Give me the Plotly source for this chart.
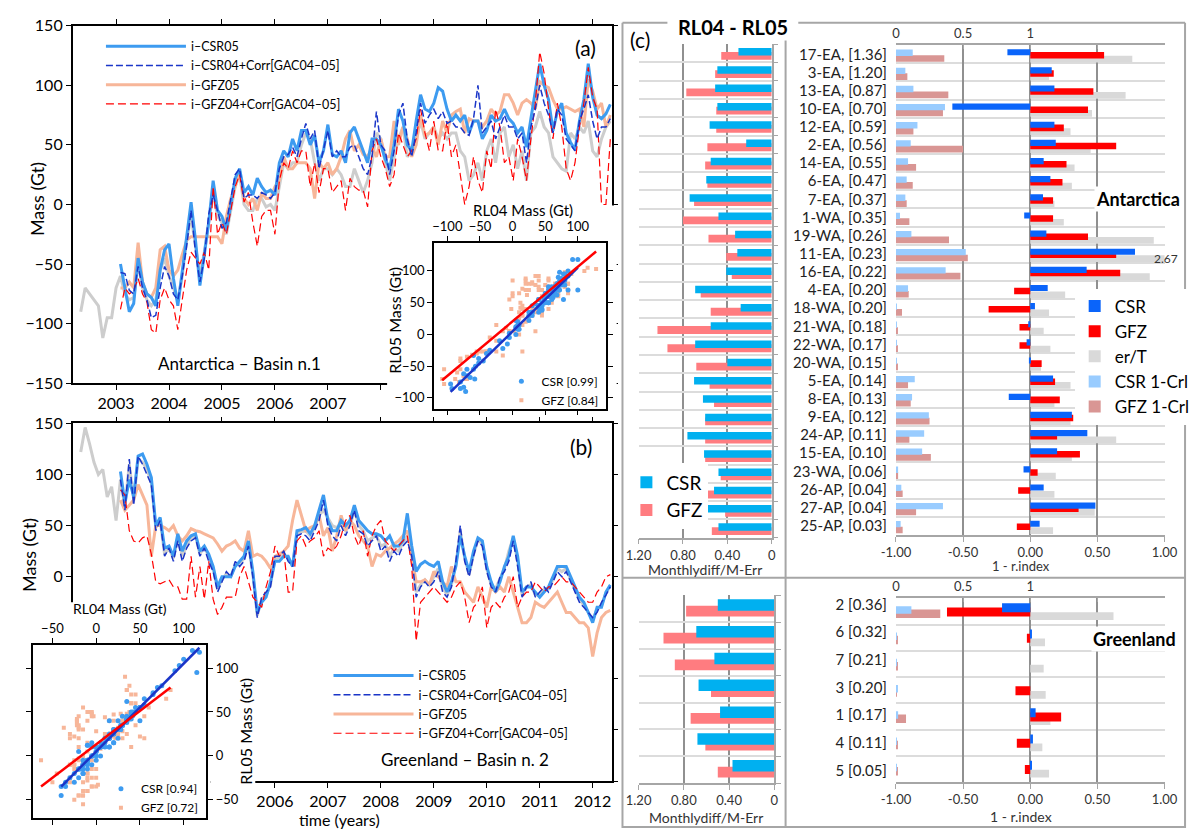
import numpy as np
import plotly.graph_objects as go

W, H = 1200, 837
def px_x(v): return v / W
def px_y(v): return 1 - v / H
def dom_x(a, b): return [a / W, b / W]
def dom_y(top, bottom): return [1 - bottom / H, 1 - top / H]

# ------------------------------------------------------------------ DATA
# monthly epochs (Feb 2003 ... Apr 2012); gray reference starts 9 months earlier
t_main = 2003 + (np.arange(0, 112) + 1) / 12.0
t_gray = 2003 + (np.arange(-9, 112) + 1) / 12.0
year_ticks = list(range(2003, 2013))

# Panel (a) Antarctica basin 1 (Gt)
ant_csr05 = [-50,-70,-90,-83,-45,-65,-75,-78,-85,-55,-38,-33,
             -62,-85,-55,-25,2,-30,-68,-42,-15,20,-5,-10,
             -22,0,22,30,10,15,8,22,15,10,12,8,
             35,45,40,55,45,62,62,50,58,35,45,67,
             42,40,45,35,60,65,55,45,35,55,55,50,
             38,30,50,80,70,50,45,70,92,80,78,85,
             98,95,80,70,75,70,75,60,70,70,55,62,
             75,70,72,80,72,68,60,65,48,72,95,118,
             100,88,62,78,85,60,52,46,70,88,118,90,
             75,72,76,84]
ant_csr04 = [-57,-58,-72,-75,-52,-70,-80,-95,-93,-70,-52,-60,
             -75,-80,-60,-35,-5,-40,-65,-45,-8,8,-5,-20,
             -15,5,25,30,5,8,8,5,10,8,5,10,
             30,40,42,48,40,55,68,55,62,30,45,62,
             40,45,40,40,48,50,40,30,25,40,78,50,
             45,25,45,75,85,55,40,60,85,68,75,80,
             72,78,68,70,65,65,60,58,72,100,60,65,
             70,55,65,75,65,65,55,60,35,65,80,100,
             85,75,60,80,75,55,50,45,70,80,92,70,
             55,65,65,72]
ant_gfz05 = [-70,-70,-65,-70,-32,-65,-75,-78,-70,-38,-35,-55,
             -60,-55,-42,-30,-27,-27,-27,-27,-27,-27,-27,-33,
             -10,5,15,28,5,0,5,-5,10,5,5,15,
             20,40,30,30,35,35,35,30,5,35,30,35,
             25,30,40,55,62,45,50,42,40,48,40,55,
             40,40,70,50,65,55,40,50,75,58,60,65,
             50,70,60,75,78,80,60,72,70,70,65,70,
             80,75,78,92,92,85,75,85,88,85,80,103,
             100,98,88,80,80,82,80,78,80,65,105,95,
             80,85,65,75]
ant_gfz04 = [-88,-70,-75,-72,-62,-75,-82,-105,-108,-80,-70,-80,
             -85,-105,-80,-55,-40,-45,-50,-40,-55,15,-25,-15,
             -25,-5,15,25,2,10,-15,-35,-10,-5,-5,-25,
             20,35,30,45,35,45,45,15,35,10,30,30,
             10,15,20,-5,22,15,12,12,-2,45,55,40,
             30,15,25,60,50,40,45,55,80,60,45,70,
             45,45,70,40,50,25,0,15,40,20,10,45,
             30,80,65,35,40,20,55,40,20,55,85,128,
             110,80,55,85,65,30,20,35,65,85,115,90,
             80,0,0,55]
ant_gray = [-90,-70,-75,-80,-85,-112,-95,-95,-70,
            -60,-75,-80,-78,-50,-70,-80,-85,-80,-55,-45,-60,
            -70,-80,-60,-30,-10,-35,-60,-40,-15,10,-10,-15,
            -25,-5,15,25,0,-5,-5,5,5,-2,0,-5,
            15,35,30,35,35,50,60,55,35,20,30,30,
            25,30,25,15,15,30,20,10,20,35,60,55,
            35,20,40,55,65,40,45,55,70,55,60,65,
            55,60,55,60,60,45,40,20,25,35,20,45,
            55,35,60,65,40,50,30,45,20,60,65,78,
            65,60,40,35,30,28,60,55,65,60,70,45,
            40,55,65,70]

# Panel (b) Greenland basin 2 (Gt)
gr_csr05 = [103,72,95,78,118,120,110,97,50,58,28,30,
            20,42,25,35,40,42,25,30,22,10,-10,0,
            0,0,10,15,20,35,5,-35,-25,-20,-5,15,
            15,20,20,10,45,46,48,42,50,65,80,55,
            45,45,55,50,55,70,55,50,45,42,42,40,
            35,40,30,30,35,62,30,5,12,15,12,10,
            15,-5,-15,-5,10,40,20,5,25,38,35,10,
            -5,-15,-5,10,20,40,20,-15,-10,-10,-15,-20,
            -15,-10,0,10,10,10,0,-10,-20,-25,-35,-45,
            -30,-30,-15,-8]
gr_csr04 = [95,65,115,70,118,110,100,90,45,55,20,28,
            15,35,15,28,35,38,20,28,15,5,-15,-5,
            5,0,15,10,15,30,0,-40,-20,-15,-10,20,
            20,25,15,10,40,42,40,35,45,55,75,50,
            40,35,50,40,50,65,45,42,30,35,40,25,
            30,15,25,20,30,35,20,-20,-10,-5,-10,-5,
            5,-15,-20,-10,15,50,15,0,20,35,30,5,
            -10,-15,0,5,15,35,10,-20,-10,-5,-20,-15,
            -10,-15,-5,5,0,5,-5,-15,-25,-30,-35,-40,
            -35,-25,-18,-10]
gr_gfz05 = [75,65,70,75,90,80,70,20,50,50,48,45,
            50,40,35,40,47,45,44,42,40,38,32,25,
            30,32,35,28,25,45,20,22,20,15,8,20,
            22,25,30,55,75,60,45,48,50,60,40,48,
            25,40,60,45,55,50,40,35,30,10,22,20,
            25,28,32,35,40,45,20,-5,-5,-3,-8,5,
            0,-5,-10,10,-5,-5,-15,-20,-25,-10,-20,-30,
            -10,-15,-10,-15,0,-15,-30,-45,-45,-40,-25,-28,
            -30,-25,-20,-15,-25,-35,-35,-40,-45,-45,-50,-78,
            -55,-40,-35,-33]
gr_gfz04 = [85,80,45,35,33,38,40,22,-5,-7,-5,-3,
            -10,-10,-22,-22,20,-20,10,-22,15,-22,-37,-30,
            -20,-20,-20,0,10,-5,-20,-25,-30,-10,5,30,
            20,25,-15,-15,35,40,30,35,38,45,20,28,
            25,30,40,55,60,40,30,45,20,40,50,55,
            35,30,25,30,35,40,10,-63,-25,-20,-15,-10,
            -15,-20,-25,-20,-10,-5,-20,-45,-30,-25,-10,-50,
            -30,-25,-30,-20,-15,0,-30,-20,-15,-15,-5,-10,
            -15,-10,-10,-5,0,-5,-5,-10,-15,-20,-25,-25,
            -15,-10,0,2]
gr_gray = [122,146,130,112,100,105,78,88,55,
           95,68,110,75,115,112,105,92,48,55,22,28,
           18,38,20,30,38,40,22,30,18,8,-12,-3,
           3,0,12,12,18,32,2,-38,-22,-18,-8,18,
           18,22,18,10,42,44,45,40,48,60,65,58,
           50,48,52,45,50,65,50,45,35,38,40,30,
           32,20,28,25,32,40,25,-15,-8,-3,-8,0,
           8,-10,-18,-8,12,45,18,2,22,36,32,8,
           -8,-12,-2,8,25,38,15,-18,-10,-8,-18,-18,
           -12,-12,-3,8,5,8,-3,-12,-22,-28,-35,-42,
           -32,-28,-16,-9]

ant_corr_csr, ant_corr_gfz = "0.99", "0.84"
gr_corr_csr, gr_corr_gfz = "0.94", "0.72"

# Panel (c) Antarctica
ant_basins = ["17-EA, [1.36]", "3-EA, [1.20]", "13-EA, [0.87]", "10-EA, [0.70]",
              "12-EA, [0.59]", "2-EA, [0.56]", "14-EA, [0.55]", "6-EA, [0.47]",
              "7-EA, [0.37]", "1-WA, [0.35]", "19-WA, [0.26]", "11-EA, [0.23]",
              "16-EA, [0.22]", "4-EA, [0.20]", "18-WA, [0.20]", "21-WA, [0.18]",
              "22-WA, [0.17]", "20-WA, [0.15]", "5-EA, [0.14]", "8-EA, [0.13]",
              "9-EA, [0.12]", "24-AP, [0.11]", "15-EA, [0.10]", "23-WA, [0.06]",
              "26-AP, [0.04]", "27-AP, [0.04]", "25-AP, [0.03]"]
ant_md_csr = [0.30,0.49,0.51,0.49,0.56,0.23,0.55,0.59,0.74,0.48,0.33,0.31,0.41,0.69,
              0.28,0.55,0.69,0.40,0.70,0.62,0.60,0.76,0.61,0.48,0.52,0.59,0.48]
ant_md_gfz = [0.455,0.51,0.77,0.50,0.50,0.58,0.60,0.58,0.70,0.80,0.57,0.41,0.36,0.64,
              0.55,1.03,0.94,0.68,0.56,0.52,0.60,0.60,0.60,0.46,0.60,0.42,0.54]
ant_r_csr = [-0.17,0.16,0.18,-0.58,0.18,0.19,0.10,0.15,0.095,-0.045,0.12,0.78,0.42,0.13,
             0.035,-0.015,-0.027,-0.01,0.17,-0.16,0.31,0.425,0.20,-0.05,0.10,0.485,0.07]
ant_r_gfz = [0.55,0.175,0.47,0.43,0.25,0.64,0.27,0.24,0.17,0.17,0.43,0.64,0.67,-0.12,
             -0.31,-0.08,-0.08,0.085,0.185,0.22,0.32,0.20,0.37,0.055,-0.09,0.36,-0.10]
ant_r_ert = [0.76,0.14,0.71,0.46,0.30,0.45,0.33,0.31,0.18,0.25,0.92,2.67,0.89,0.26,
             0.14,0.10,0.15,0.08,0.30,0.18,0.30,0.64,0.31,0.19,0.18,0.48,0.17]
ant_crl_csr = [0.125,0.07,0.13,0.365,0.16,0.11,0.09,0.08,0.07,0.03,0.115,0.52,0.37,0.09,
               0.005,0.004,0.005,0.005,0.14,0.12,0.245,0.21,0.195,0.016,0.04,0.35,0.035]
ant_crl_gfz = [0.36,0.085,0.39,0.35,0.13,0.50,0.15,0.125,0.08,0.10,0.395,0.535,0.48,0.095,
               0.045,0.015,0.015,0.015,0.09,0.11,0.25,0.10,0.26,0.016,0.05,0.15,0.05]

# Panel (c) Greenland
gr_basins = ["2 [0.36]", "6 [0.32]", "7 [0.21]", "3 [0.20]", "1 [0.17]", "4 [0.11]", "5 [0.05]"]
gr_md_csr = [0.50,0.69,0.53,0.67,0.48,0.68,0.37]
gr_md_gfz = [0.78,0.98,0.88,0.56,0.74,0.61,0.50]
gr_r_csr = [-0.21,0.01,0.0,0.0,0.04,0.02,0.013]
gr_r_gfz = [-0.62,-0.025,0.0,-0.11,0.23,-0.10,-0.04]
gr_r_ert = [0.62,0.11,0.10,0.115,0.15,0.09,0.14]
gr_crl_csr = [0.115,0.004,0.004,0.01,0.016,0.004,0.004]
gr_crl_gfz = [0.33,0.015,0.01,0.006,0.075,0.008,0.015]

# ------------------------------------------------------------------ STYLE
FONT = "Lato"
C_CSR05, C_CSR04 = "#3d9bf0", "#1a35c8"
C_GFZ05, C_GFZ04 = "#f7b699", "#ff0000"
C_GRAY = "#cdcdcd"
C_MD_CSR, C_MD_GFZ = "#00b0f0", "#ff7c80"
C_R_CSR, C_R_GFZ, C_R_ERT = "#0a64fa", "#ff0000", "#d9d9d9"
C_CRL_CSR, C_CRL_GFZ = "#99ccff", "#d99694"
GRID_DARK, GRID_LIGHT, FRAME = "#909090", "#dcdcdc", "#a6a6a6"

fig = go.Figure()

def ts(t, y, color, width, dash, name, xa, ya, legend, rank, show=True):
    fig.add_trace(go.Scatter(x=t, y=y, mode="lines", name=name,
                             line=dict(color=color, width=width, dash=dash),
                             xaxis=xa, yaxis=ya, legend=legend, legendrank=rank,
                             legendgroup=f"{legend}-{rank}",
                             showlegend=show, hoverinfo="skip"))

# (a) main
ts(t_gray, ant_gray, C_GRAY, 3, "solid", "gray", "x", "y", "legend", 9, False)
ts(t_main, ant_gfz05, C_GFZ05, 3, "solid", "i\u2013GFZ05", "x", "y", "legend", 3)
ts(t_main, ant_csr05, C_CSR05, 3, "solid", "i\u2013CSR05", "x", "y", "legend", 1)
ts(t_main, ant_gfz04, C_GFZ04, 1.2, "8px,4px", "i\u2013GFZ04+Corr[GAC04\u201305]", "x", "y", "legend", 4)
ts(t_main, ant_csr04, C_CSR04, 1.5, "7px,3px", "i\u2013CSR04+Corr[GAC04\u201305]", "x", "y", "legend", 2)
# (b) main
ts(t_gray, gr_gray, C_GRAY, 3, "solid", "gray", "x2", "y2", "legend2", 9, False)
ts(t_main, gr_gfz05, C_GFZ05, 3, "solid", "i\u2013GFZ05", "x2", "y2", "legend2", 3)
ts(t_main, gr_csr05, C_CSR05, 3, "solid", "i\u2013CSR05", "x2", "y2", "legend2", 1)
ts(t_main, gr_gfz04, C_GFZ04, 1.2, "8px,4px", "i\u2013GFZ04+Corr[GAC04\u201305]", "x2", "y2", "legend2", 4)
ts(t_main, gr_csr04, C_CSR04, 1.5, "7px,3px", "i\u2013CSR04+Corr[GAC04\u201305]", "x2", "y2", "legend2", 2)

# masks (white opaque subplots hiding the areas under the insets)
for xa, ya in [("x3", "y3"), ("x4", "y4"), ("x5", "y5")]:
    fig.add_trace(go.Scatter(x=[0.5], y=[0.5], mode="markers", marker=dict(opacity=0),
                             xaxis=xa, yaxis=ya, showlegend=False, hoverinfo="skip"))

def fit(x, y):
    x = np.asarray(x, float); y = np.asarray(y, float)
    m, c = np.polyfit(x, y, 1)
    xs = np.array([x.min(), x.max()])
    return xs, m * xs + c

def inset(xa, ya, legend, csr04, csr05, gfz04, gfz05, rc, rg):
    fig.add_trace(go.Scatter(x=gfz04, y=gfz05, mode="markers", name=f"GFZ [{rg}]",
                             marker=dict(symbol="square", size=4, color=C_GFZ05),
                             xaxis=xa, yaxis=ya, legend=legend, legendrank=2, hoverinfo="skip"))
    fig.add_trace(go.Scatter(x=csr04, y=csr05, mode="markers", name=f"CSR [{rc}]",
                             marker=dict(symbol="circle", size=5, color=C_CSR05),
                             xaxis=xa, yaxis=ya, legend=legend, legendrank=1, hoverinfo="skip"))
    fx, fy = fit(csr04, csr05)
    fig.add_trace(go.Scatter(x=fx, y=fy, mode="lines", line=dict(color=C_CSR04, width=2.5),
                             xaxis=xa, yaxis=ya, showlegend=False, hoverinfo="skip"))
    fx, fy = fit(gfz04, gfz05)
    fig.add_trace(go.Scatter(x=fx, y=fy, mode="lines", line=dict(color=C_GFZ04, width=2.5),
                             xaxis=xa, yaxis=ya, showlegend=False, hoverinfo="skip"))

inset("x6", "y6", "legend3", ant_csr04, ant_csr05, ant_gfz04, ant_gfz05, ant_corr_csr, ant_corr_gfz)
inset("x7", "y7", "legend4", gr_csr04, gr_csr05, gr_gfz04, gr_gfz05, gr_corr_csr, gr_corr_gfz)

# ---------------- bar charts
def hbar(vals, color, name, xa, ya, offset, width, legend=None, rank=None, show=False, group=None):
    fig.add_trace(go.Bar(x=vals, y=list(range(len(vals))), orientation="h", name=name,
                         marker=dict(color=color, line=dict(width=0)),
                         offset=offset, width=width, xaxis=xa, yaxis=ya,
                         legend=legend, legendrank=rank, showlegend=show,
                         legendgroup=group, hoverinfo="skip"))

# Antarctica middle
hbar(ant_md_gfz, C_MD_GFZ, "GFZ", "x8", "y8", -0.08, 0.43, "legend6", 2, True)
hbar(ant_md_csr, C_MD_CSR, "CSR", "x8", "y8", -0.29, 0.41, "legend6", 1, True)
# Antarctica right
hbar(ant_r_ert, C_R_ERT, "er/T", "x9", "y9", 0.08, 0.37, "legend5", 3, True, "g3")
hbar(ant_r_gfz, C_R_GFZ, "GFZ", "x9", "y9", -0.12, 0.36, "legend5", 2, True, "g2")
hbar(ant_r_csr, C_R_CSR, "CSR", "x9", "y9", -0.28, 0.34, "legend5", 1, True, "g1")
hbar(ant_crl_gfz, C_CRL_GFZ, "GFZ 1-Crl", "x10", "y9", 0.05, 0.37, "legend5", 5, True, "g5")
hbar(ant_crl_csr, C_CRL_CSR, "CSR 1-Crl", "x10", "y9", -0.26, 0.35, "legend5", 4, True, "g4")
# Greenland middle
hbar(gr_md_gfz, C_MD_GFZ, "GFZ", "x11", "y11", -0.11, 0.40)
hbar(gr_md_csr, C_MD_CSR, "CSR", "x11", "y11", -0.36, 0.43)
# Greenland right
hbar(gr_r_ert, C_R_ERT, "er/T", "x12", "y12", 0.03, 0.30)
hbar(gr_r_gfz, C_R_GFZ, "GFZ", "x12", "y12", -0.15, 0.34)
hbar(gr_r_csr, C_R_CSR, "CSR", "x12", "y12", -0.31, 0.34)
hbar(gr_crl_gfz, C_CRL_GFZ, "GFZ 1-Crl", "x13", "y12", -0.07, 0.32)
hbar(gr_crl_csr, C_CRL_CSR, "CSR 1-Crl", "x13", "y12", -0.20, 0.29)

# ------------------------------------------------------------------ AXES
blk = dict(showline=True, linecolor="black", linewidth=1.5, ticks="outside", ticklen=5,
           tickwidth=1.3, tickcolor="black", mirror="allticks", showgrid=False, zeroline=False)
lay = {}
lay["xaxis"] = dict(blk, domain=dom_x(59, 611), range=[2002.18, 2012.36], anchor="y",
                    tickvals=year_ticks,
                    ticktext=[str(v) if v <= 2007 else "" for v in year_ticks],
                    tickfont=dict(size=16))
lay["yaxis"] = dict(blk, domain=dom_y(16, 382), range=[-150, 150], anchor="x",
                    tickvals=list(range(-150, 151, 50)), tickfont=dict(size=16))
lay["xaxis2"] = dict(blk, domain=dom_x(59, 611), range=[2002.18, 2012.36], anchor="y2",
                     tickvals=year_ticks,
                     ticktext=[str(v) if v >= 2006 else "" for v in year_ticks],
                     tickfont=dict(size=16))
lay["yaxis2"] = dict(blk, domain=dom_y(423, 789), range=[-200, 150], anchor="x2",
                     tickvals=list(range(-200, 151, 50)),
                     ticktext=[str(v) if v >= 0 else "" for v in range(-200, 151, 50)],
                     tickfont=dict(size=16))
masks = {3: ((381, 616), (200, 412)), 4: ((0, 200), (606, 837)), 5: ((200, 246), (655, 837))}
for i, ((xa0, xa1), (ya0, ya1)) in masks.items():
    lay[f"xaxis{i}"] = dict(domain=dom_x(xa0, xa1), range=[0, 1], visible=False, anchor=f"y{i}")
    lay[f"yaxis{i}"] = dict(domain=dom_y(ya0, ya1), range=[0, 1], visible=False, anchor=f"x{i}")

lay["xaxis6"] = dict(blk, domain=dom_x(429, 605), range=[-120.5, 143], anchor="y6", side="top",
                     tickvals=[-100, -50, 0, 50, 100], tickfont=dict(size=13))
lay["yaxis6"] = dict(blk, domain=dom_y(238, 408), range=[-117, 144.6], anchor="x6",
                     tickvals=[-100, -50, 0, 50, 100], tickfont=dict(size=13))
lay["xaxis7"] = dict(blk, domain=dom_x(18.6, 196), range=[-72, 126], anchor="y7", side="top",
                     tickvals=[-50, 0, 50, 100], tickfont=dict(size=13))
lay["yaxis7"] = dict(blk, domain=dom_y(650, 827), range=[-71, 126], anchor="x7", side="right",
                     tickvals=[-50, 0, 50, 100], tickfont=dict(size=13))

gray_ax = dict(showline=True, linecolor=FRAME, linewidth=1.5, ticks="outside", ticklen=5,
               tickcolor=FRAME, tickwidth=1.3, zeroline=False,
               tickfont=dict(size=13, color="#333333"))

def middle_axes(xi, yi, xd, yd, n):
    lay[f"xaxis{xi}"] = dict(gray_ax, domain=xd, range=[1.2, 0], anchor=f"y{yi}",
                             tickvals=[1.2, 0.8, 0.4, 0], ticktext=["1.20", "0.80", "0.40", "0"],
                             showgrid=True, gridcolor=GRID_DARK, gridwidth=1.5)
    lay[f"yaxis{yi}"] = dict(gray_ax, domain=yd, range=[n - 0.5, -0.5], anchor=f"x{xi}",
                             side="right", tickvals=[i - 0.5 for i in range(n + 1)],
                             showticklabels=False, showgrid=True, gridcolor=GRID_LIGHT,
                             gridwidth=2)

def right_axes(xi, xo, yi, xd, yd, n, labels, tickpos):
    lay[f"xaxis{xi}"] = dict(gray_ax, domain=xd, range=[-1, 1], anchor=f"y{yi}",
                             tickvals=[-1, -0.5, 0, 0.5, 1],
                             ticktext=["-1.00", "-0.50", "0.00", "0.50", "1.00"],
                             showgrid=True, gridcolor=GRID_DARK, gridwidth=1.5)
    lay[f"xaxis{xo}"] = dict(gray_ax, range=[0, 2], overlaying=f"x{xi}", anchor=f"y{yi}",
                             side="top", tickvals=[0, 0.5, 1, 1.5, 2], ticks="inside",
                             ticklen=4, ticktext=["0", "0.5", "1", "", ""], showgrid=False)
    lay[f"yaxis{yi}"] = dict(domain=yd, range=[n - 0.5, -0.5], anchor=f"x{xi}",
                             tickvals=tickpos, ticktext=labels, ticks="", showline=False,
                             zeroline=False, showgrid=False, ticklabelstandoff=8,
                             tickfont=dict(size=15, color="#222222"),
                             minor=dict(tickvals=[i - 0.5 for i in range(n + 1)], showgrid=True,
                                        gridcolor=GRID_LIGHT, gridwidth=2, ticks=""))

middle_axes(8, 8, dom_x(638.5, 774.8), dom_y(35, 540), len(ant_basins))
right_axes(9, 10, 9, dom_x(902, 1177), dom_y(36, 537), len(ant_basins), ant_basins,
           list(range(len(ant_basins))))
middle_axes(11, 11, dom_x(638.5, 777.5), dom_y(599, 791), len(gr_basins))
right_axes(12, 13, 12, dom_x(902, 1177), dom_y(602, 790), len(gr_basins), gr_basins,
           [i * 1.054 - 0.265 for i in range(len(gr_basins))])

# ------------------------------------------------------------------ TEXT
def ann(text, x, y, size=15, bold=False, angle=0, xanchor="center", bg=None, color="black"):
    d = dict(text=f"<b>{text}</b>" if bold else text, x=px_x(x), y=px_y(y), xref="paper",
             yref="paper", showarrow=False, xanchor=xanchor, yanchor="middle",
             font=dict(size=size, color=color, family=FONT), textangle=angle)
    if bg:
        d.update(bgcolor=bg)
    return d

annotations = [
    ann("(a)", 584, 38, 21), ann("(b)", 580, 447, 21), ann("(c)", 640, 30, 21),
    ann("Antarctica \u2013 Basin n.1", 230, 362, 17),
    ann("Greenland \u2013 Basin n. 2", 461, 767, 17),
    ann("Mass (Gt)", 22, 193, 18, angle=-90), ann("Mass (Gt)", 15, 558, 18, angle=-90),
    ann("time (years)", 332, 828, 16),
    ann("RL04 Mass (Gt)", 520, 205, 15), ann("RL05 Mass (Gt)", 389, 317, 16, angle=-90),
    ann("RL04 Mass (Gt)", 108, 612, 14), ann("RL05 Mass (Gt)", 236, 738, 16, angle=-90),
    ann("RL04 - RL05", 735, 17, 20, bold=True, bg="white"),
    ann("Antarctica", 1150, 193, 18, bold=True, bg="white"),
    ann("Greenland", 1146, 644, 18, bold=True, bg="white"),
    ann("2.67", 1179, 254, 12, color="#333333"),
    ann("Monthlydiff/M-Err", 706, 573, 14, color="#333333"),
    ann("Monthlydiff/M-Err", 708, 826, 14, color="#333333"),
    ann("1 - r.index", 1030, 569, 13, color="#333333"),
    ann("1 - r.index", 1030, 825, 14, color="#333333"),
]

def line(x0, y0, x1, y1):
    return dict(type="line", xref="paper", yref="paper", x0=px_x(x0), y0=px_y(y0),
                x1=px_x(x1), y1=px_y(y1), line=dict(color=FRAME, width=2), layer="below")

shapes = [line(622, 13, 668, 13), line(802, 13, 1198, 13), line(622, 13, 622, 837),
          line(1198, 13, 1198, 837), line(789, 13, 789, 837), line(622, 581, 1198, 581),
          line(622, 836, 1198, 836)]

def leg(x, y, size, itemwidth=30, bg="rgba(0,0,0,0)", gap=0):
    return dict(x=px_x(x), y=px_y(y), xanchor="left", yanchor="top", bgcolor=bg,
                font=dict(size=size, family=FONT, color="black"), itemwidth=itemwidth,
                tracegroupgap=gap, traceorder="normal", borderwidth=0)

fig.update_layout(
    width=W, height=837, margin=dict(l=0, r=0, t=0, b=0, pad=0),
    paper_bgcolor="white", plot_bgcolor="white",
    font=dict(family=FONT, color="black"),
    barmode="overlay", showlegend=True,
    legend=leg(88, 22, 12.5, 80, gap=3), legend2=leg(321, 666, 12.5, 80),
    legend3=leg(498, 365, 12), legend4=leg(88, 782, 12),
    legend5=leg(1085, 285, 17, 30, "white", 2), legend6=leg(626, 464, 19, 30, "white"),
    annotations=annotations, shapes=shapes, **lay)

fig.write_html("out.html")
